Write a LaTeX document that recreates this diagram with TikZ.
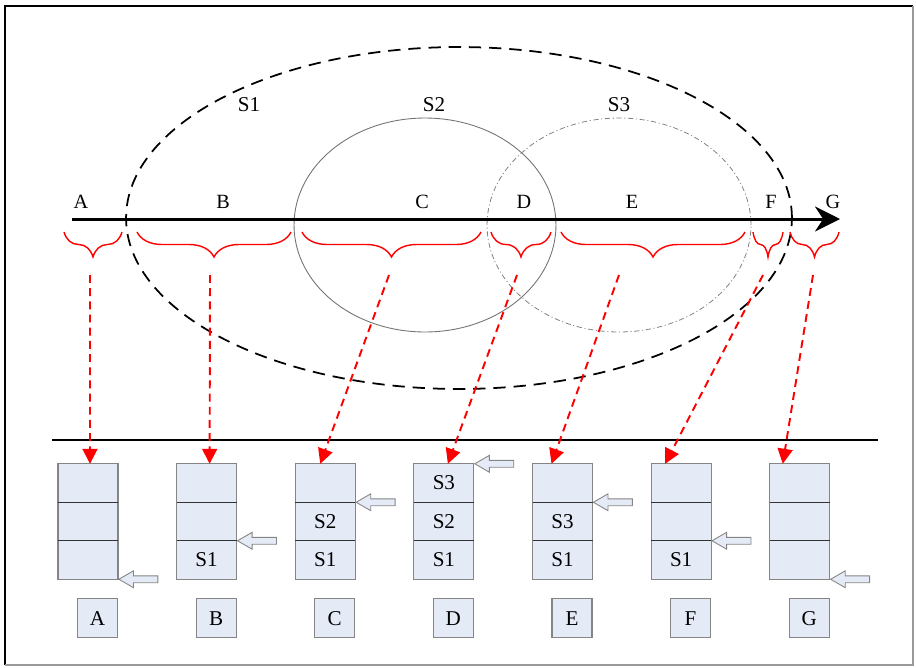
\documentclass[tikz,border=0pt]{standalone}
\usepackage{fontspec}
\setmainfont{Liberation Serif}
\usetikzlibrary{arrows.meta,positioning,decorations.pathreplacing,shapes.geometric,shapes.arrows}
\definecolor{cellfill}{HTML}{E4EAF6}
\definecolor{cellline}{HTML}{858585}
\definecolor{mapred}{HTML}{FF0000}

\begin{document}
\begin{tikzpicture}[
  x=0.02cm, y=-0.02cm,
  font=\fontsize{12}{14}\selectfont,
  cell/.style={draw=cellline, fill=cellfill, line width=0.6pt, outer sep=0pt,
    inner sep=0pt, minimum width=1.2cm, minimum height=0.77cm},
  tag/.style={draw=cellline, fill=cellfill, line width=0.6pt, inner sep=0pt,
    minimum width=0.8cm, minimum height=0.78cm},
  ptr/.style={single arrow, draw=cellline, fill=cellfill, line width=0.5pt,
    shape border rotate=180, anchor=tip, minimum height=0.78cm,
    inner sep=0.06cm, single arrow head extend=0.1cm, single arrow tip angle=60},
  divide/.style={draw=black!80, line width=0.5pt},
  axislbl/.style={font=\fontsize{11.5}{13}\selectfont},
  span/.style={draw=mapred, line width=0.8pt, decorate,
    decoration={brace, mirror, amplitude=0.5cm}},
  map/.style={-{Triangle[length=3mm, width=3mm]}, draw=mapred, line width=1.1pt,
    dash pattern=on 4.5pt off 3pt},
]
  \useasboundingbox (0,0) rectangle (916,667);
  \draw[line width=1pt] (5,665) -- (5,6) -- (913,6);
  \draw[black!40, line width=0.6pt] (913,6) -- (913,665) -- (5,665);

  \node[ellipse, draw, line width=1pt, dash pattern=on 7pt off 4.5pt, inner sep=0pt,
    minimum width=13.32cm, minimum height=6.84cm] (setS1) at (459,218) {};
  \node[ellipse, draw=black!55, line width=0.5pt, inner sep=0pt,
    minimum width=5.24cm, minimum height=4.28cm] (setS2) at (425,225) {};
  \node[ellipse, draw=black!50, line width=0.45pt, inner sep=0pt,
    dash pattern=on 3pt off 1.5pt on 0.6pt off 1.5pt,
    minimum width=5.28cm, minimum height=4.28cm] (setS3) at (619,225) {};
  \node (lblS1) at (249,105) {S1};
  \node (lblS2) at (434,105) {S2};
  \node (lblS3) at (619,105) {S3};

  \coordinate (axisL) at (72,219);
  \coordinate (axisR) at (840,219);
  \draw[line width=1.7pt, -{Stealth[length=0.5cm, width=0.5cm]}] (axisL) -- (axisR);
  \node[axislbl] (segA) at (81,202) {A};
  \node[axislbl] (segB) at (223,202) {B};
  \node[axislbl] (segC) at (422,202) {C};
  \node[axislbl] (segD) at (524,202) {D};
  \node[axislbl] (segE) at (632,202) {E};
  \node[axislbl] (segF) at (771,202) {F};
  \node[axislbl] (segG) at (833,202) {G};

  \draw[span] (64,232) -- (122,232);
  \draw[span] (137,232) -- (291,232);
  \draw[span] (302,232) -- (481,232);
  \draw[span] (491,232) -- (551,232);
  \draw[span] (561,232) -- (745,232);
  \draw[span] (753,232) -- (783,232);
  \draw[span] (790,232) -- (839,232);

  \coordinate (sepL) at (52,440);
  \coordinate (sepR) at (878,440);
  \draw[line width=1.1pt] (sepL) -- (sepR);

  \node[cell] (A1) at (88,560) {};
  \node[cell, above=0pt of A1] (A2) {};
  \node[cell, above=0pt of A2] (A3) {};
  \node[cell, right=1.173cm of A1] (B1) {S1};
  \node[cell, above=0pt of B1] (B2) {};
  \node[cell, above=0pt of B2] (B3) {};
  \node[cell, right=1.173cm of B1] (C1) {S1};
  \node[cell, above=0pt of C1] (C2) {S2};
  \node[cell, above=0pt of C2] (C3) {};
  \node[cell, right=1.173cm of C1] (D1) {S1};
  \node[cell, above=0pt of D1] (D2) {S2};
  \node[cell, above=0pt of D2] (D3) {S3};
  \node[cell, right=1.173cm of D1] (E1) {S1};
  \node[cell, above=0pt of E1] (E2) {S3};
  \node[cell, above=0pt of E2] (E3) {};
  \node[cell, right=1.173cm of E1] (F1) {S1};
  \node[cell, above=0pt of F1] (F2) {};
  \node[cell, above=0pt of F2] (F3) {};
  \node[cell, right=1.173cm of F1] (G1) {};
  \node[cell, above=0pt of G1] (G2) {};
  \node[cell, above=0pt of G2] (G3) {};

  \draw[divide] (A1.north west) -- (A1.north east) (A2.north west) -- (A2.north east);
  \draw[divide] (B1.north west) -- (B1.north east) (B2.north west) -- (B2.north east);
  \draw[divide] (C1.north west) -- (C1.north east) (C2.north west) -- (C2.north east);
  \draw[divide] (D1.north west) -- (D1.north east) (D2.north west) -- (D2.north east);
  \draw[divide] (E1.north west) -- (E1.north east) (E2.north west) -- (E2.north east);
  \draw[divide] (F1.north west) -- (F1.north east) (F2.north west) -- (F2.north east);
  \draw[divide] (G1.north west) -- (G1.north east) (G2.north west) -- (G2.north east);

  \node[tag, below left=0.38cm and 0pt of A1.south east] (tagA) {A};
  \node[tag, below left=0.38cm and 0pt of B1.south east] (tagB) {B};
  \node[tag, below left=0.38cm and 0pt of C1.south east] (tagC) {C};
  \node[tag, below left=0.38cm and 0pt of D1.south east] (tagD) {D};
  \node[tag, below left=0.38cm and 0pt of E1.south east] (tagE) {E};
  \node[tag, below left=0.38cm and 0pt of F1.south east] (tagF) {F};
  \node[tag, below left=0.38cm and 0pt of G1.south east] (tagG) {G};

  \node[ptr] (ptrA) at (A1.south east) {};
  \node[ptr] (ptrB) at (B1.north east) {};
  \node[ptr] (ptrC) at (C2.north east) {};
  \node[ptr] (ptrD) at (D3.north east) {};
  \node[ptr] (ptrE) at (E2.north east) {};
  \node[ptr] (ptrF) at (F1.north east) {};
  \node[ptr] (ptrG) at (G1.south east) {};

  \coordinate (fromA) at (90,275);
  \coordinate (fromB) at (210,275);
  \coordinate (fromC) at (389,275);
  \coordinate (fromD) at (517,275);
  \coordinate (fromE) at (619,275);
  \coordinate (fromF) at (763,275);
  \coordinate (fromG) at (813,275);
  \draw[map] (fromA) -- ([xshift=0.04cm]A3.north);
  \draw[map] (fromB) -- ([xshift=0.06cm]B3.north);
  \draw[map] (fromC) -- ([xshift=-0.1cm]C3.north);
  \draw[map] (fromD) -- ([xshift=0.08cm]D3.north);
  \draw[map] (fromE) -- ([xshift=-0.22cm]E3.north);
  \draw[map] (fromF) -- ([xshift=-0.32cm]F3.north);
  \draw[map] (fromG) -- ([xshift=-0.34cm]G3.north);
\end{tikzpicture}
\end{document}
